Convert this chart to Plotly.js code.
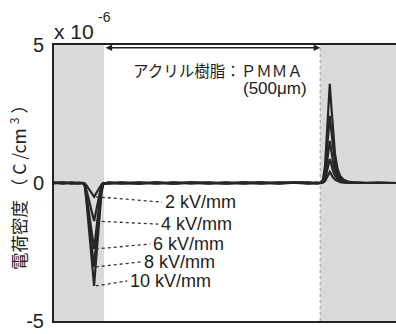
<!DOCTYPE html>
<html><head><meta charset="utf-8">
<script src="https://cdn.plot.ly/plotly-3.0.1.min.js"></script>
<style>html,body{margin:0;padding:0;background:#fff}</style>
</head><body><div id="chart" style="width:396px;height:334px"></div>
<script>
// position (arbitrary units, PMMA spans 0..496)
const xPos = [-115,-95,-75,-60,-48,-44,-40,-35,-30,-26,-23,-20,-15,-10,-6,-2,10,40,80,120,160,200,240,280,320,360,400,440,470,488,496,502,507,511,515,518,521,525,530,536,542,550,560,575,600,630,670];
const kv2  = [0.01,-0.02,0.02,-0.01,0,-0.02,-0.1,-0.22,-0.34,-0.44,-0.5,-0.42,-0.27,-0.14,-0.05,0,-0.02,0.01,-0.03,0.02,-0.02,0.01,-0.02,0.02,-0.01,0.01,-0.02,0.01,0.02,-0.01,0,0.01,0.06,0.17,0.31,0.40,0.33,0.21,0.12,0.06,0.03,0.01,0,0,0,0.01,0];
const kv4  = [0,0.02,-0.01,0.01,0,-0.06,-0.28,-0.6,-0.93,-1.22,-1.38,-1.15,-0.72,-0.36,-0.13,-0.02,0.01,-0.02,0.01,-0.01,0.02,-0.02,0.01,-0.01,0.02,-0.02,0.01,-0.01,0,0.01,0,0.02,0.14,0.38,0.68,0.87,0.71,0.46,0.26,0.13,0.06,0.03,0.01,0,0,-0.01,0];
const kv6  = [-0.01,0.01,0,-0.02,0,-0.1,-0.48,-1.02,-1.6,-2.1,-2.39,-1.98,-1.25,-0.62,-0.22,-0.03,0,0.02,-0.01,0.01,-0.02,0.02,-0.01,0.01,-0.02,0.01,0,0.02,-0.01,0,0,0.04,0.25,0.68,1.18,1.52,1.24,0.8,0.45,0.22,0.11,0.05,0.02,0.01,0,0.01,0];
const kv8  = [0.02,-0.01,0.01,0,0,-0.12,-0.6,-1.3,-2.05,-2.7,-3.04,-2.5,-1.6,-0.8,-0.28,-0.04,-0.01,0,0.02,-0.02,0.01,0,0.02,-0.02,0.01,-0.01,0.02,0,-0.02,0.01,0,0.07,0.4,1.1,1.9,2.43,1.96,1.3,0.72,0.35,0.17,0.08,0.04,0.01,0,0,0];
const kv10 = [0,0.01,-0.02,0.01,0,-0.15,-0.75,-1.6,-2.5,-3.3,-3.73,-3.1,-2.0,-1.0,-0.35,-0.05,0.02,-0.01,0,0.01,-0.01,0.02,0,-0.01,0.01,0.02,-0.01,0.02,0.01,-0.02,0,0.1,0.6,1.6,2.8,3.59,2.9,1.9,1.05,0.5,0.25,0.12,0.05,0.02,0,0.01,0];
const seriesNames = ['2 kV/mm','4 kV/mm','6 kV/mm','8 kV/mm','10 kV/mm'];
const seriesVals = [kv2, kv4, kv6, kv8, kv10];
const labelX = [135,126,108,86,55];
const labelY = [-0.69,-1.49,-2.21,-2.86,-3.55];
const yTicks = [-5,0,5];
const yTickText = ['-5','0','5'];
const electrodeL = [-115,0];
const pmma = [0,496];
const electrodeR = [496,670];

const traces = seriesVals.map((v,i)=>({
  x:xPos, y:v, type:'scatter', mode:'lines', name:seriesNames[i],
  line:{color:'#262626', width:2.2}, showlegend:false, hoverinfo:'skip'
}));

const shapes = [
  {type:'rect', xref:'x', yref:'paper', x0:electrodeL[0], x1:electrodeL[1], y0:0, y1:1, fillcolor:'#dadada', line:{width:0}, layer:'below'},
  {type:'rect', xref:'x', yref:'paper', x0:electrodeR[0], x1:electrodeR[1], y0:0, y1:1, fillcolor:'#dadada', line:{width:0}, layer:'below'},
  {type:'line', xref:'x', yref:'paper', x0:electrodeR[0], x1:electrodeR[0], y0:0, y1:1, line:{color:'#999', width:1, dash:'dot'}, layer:'below'}
];
const annotations = [];
seriesVals.forEach((v,i)=>{
  let mi = 0;
  for (let k=0;k<v.length;k++){ if (xPos[k]<100 && v[k]<v[mi]) mi=k; }
  shapes.push({type:'line', xref:'x', yref:'y', x0:xPos[mi]+4, y0:v[mi], x1:labelX[i]-2, y1:labelY[i],
    line:{color:'#333', width:1.3, dash:'dot'}});
  annotations.push({xref:'x', yref:'y', x:labelX[i], y:labelY[i], xanchor:'left', yanchor:'middle',
    text:seriesNames[i], showarrow:false, font:{family:'Liberation Sans, Arial', size:18, color:'#222'}});
});
annotations.push({xref:'x', yref:'y', x:pmma[1], y:4.9, ax:pmma[0], ay:4.9, axref:'x', ayref:'y',
  text:'', showarrow:true, arrowhead:2, arrowside:'end+start', arrowsize:1, arrowwidth:1.3, arrowcolor:'#222'});
annotations.push({xref:'paper', yref:'paper', x:0.734, y:0.909, xanchor:'right', yanchor:'middle',
  text:'アクリル樹脂：ＰＭＭＡ', showarrow:false, font:{family:'Noto Sans CJK JP', size:15.5, color:'#222'}});
annotations.push({xref:'paper', yref:'paper', x:0.745, y:0.844, xanchor:'right', yanchor:'middle',
  text:'(500μm)', showarrow:false, font:{family:'Liberation Sans, Arial', size:17, color:'#222'}});
annotations.push({xref:'paper', yref:'paper', x:-0.006, y:1.05, xanchor:'left', yanchor:'middle',
  text:'x 10', showarrow:false, font:{family:'Liberation Sans, Arial', size:21, color:'#222'}});
annotations.push({xref:'paper', yref:'paper', x:0.124, y:1.103, xanchor:'left', yanchor:'middle',
  text:'-6', showarrow:false, font:{family:'Liberation Sans, Arial', size:14, color:'#222'}});
annotations.push({xref:'paper', yref:'paper', x:-0.105, y:0.5, xanchor:'center', yanchor:'middle', textangle:-90,
  text:'電荷密度 （ C /cm <sup>3</sup> ）', showarrow:false, font:{family:'Noto Sans CJK JP', size:17.5, color:'#222'}});

const layout = {
  width:396, height:334, margin:{l:54, r:0, t:45, b:13, pad:0},
  paper_bgcolor:'#fff', plot_bgcolor:'#fff', showlegend:false,
  xaxis:{range:[-115,670], showline:true, mirror:true, linecolor:'#222', linewidth:2, showticklabels:false, ticks:'', showgrid:false, zeroline:false, fixedrange:true},
  yaxis:{range:[-5,5], tickvals:yTicks, ticktext:yTickText, showline:true, mirror:false, linecolor:'#222', linewidth:2, ticks:'', ticklabelstandoff:4, showgrid:false, zeroline:false, tickfont:{family:'Liberation Sans, Arial', size:20, color:'#222'}, fixedrange:true},
  shapes:shapes, annotations:annotations
};
Plotly.newPlot('chart', traces, layout, {staticPlot:true, displayModeBar:false});
</script></body></html>
